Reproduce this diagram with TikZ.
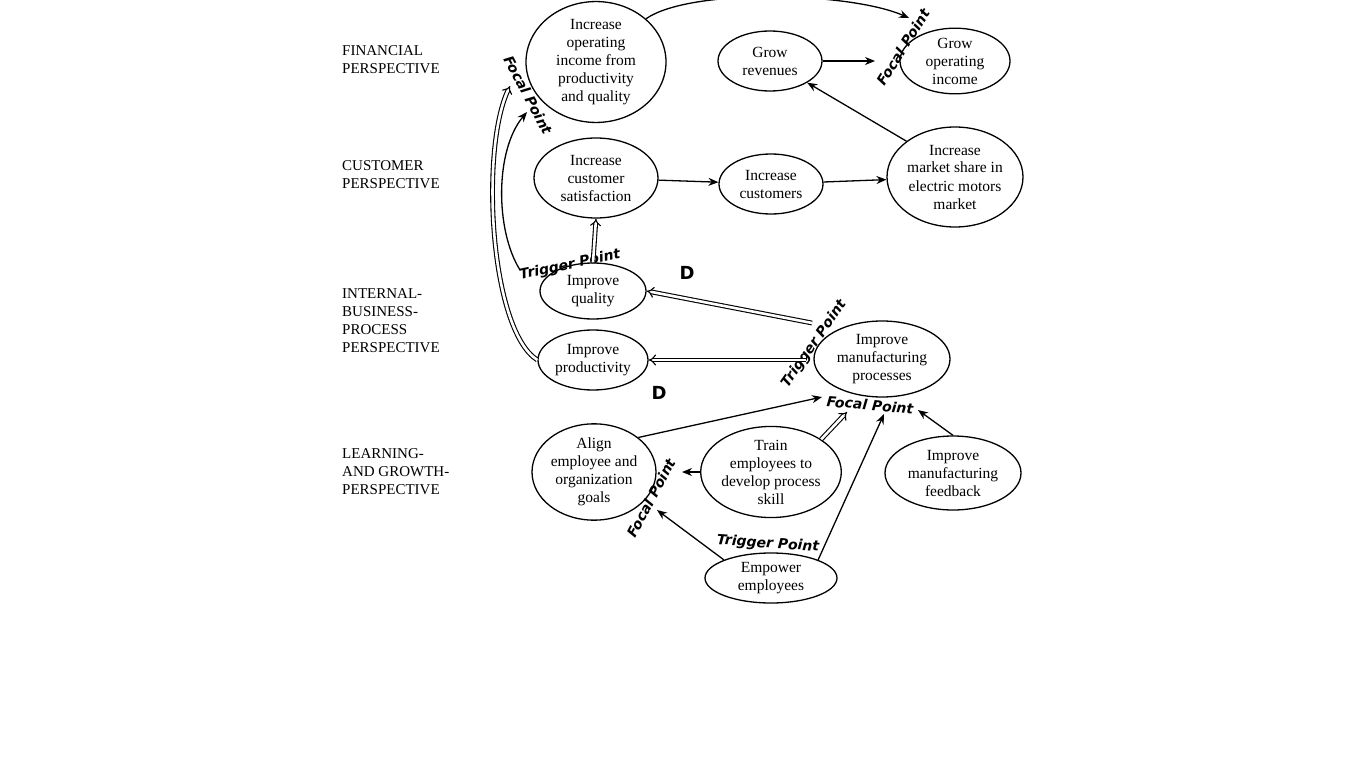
\documentclass[tikz,border=0pt]{standalone}
\usepackage{fontspec}
\setmainfont{Liberation Serif}
\newfontfamily\labfont{DejaVu Sans}
\usetikzlibrary{arrows.meta,shapes.geometric}
\begin{document}
\begin{tikzpicture}[x=1pt,y=-1pt,
 el/.style={ellipse,draw,line width=1.3pt,minimum width=#1,align=center,font=\fontsize{15.5}{18}\selectfont,inner sep=0pt},
 ar/.style={-{Stealth[length=10pt,width=8pt]},line width=1.3pt},
 dar/.style={-{Implies},double,double distance=2.6pt,line width=1.1pt},
 lab/.style={font=\labfont\bfseries\itshape\fontsize{14}{14}\selectfont,inner sep=0pt},
 per/.style={anchor=west,align=left,font=\fontsize{15}{18}\selectfont,inner sep=0pt},
 dl/.style={font=\labfont\bfseries\fontsize{18}{18}\selectfont,inner sep=0pt}]
\useasboundingbox (0,0) rectangle (1366,768);
\node[el,minimum width=140pt,minimum height=116pt] (iop) at (596,62) {Increase\\operating\\income from\\productivity\\and quality};
\node[el,minimum width=104pt,minimum height=60pt] (grev) at (770,61) {Grow\\revenues};
\node[el,minimum width=110pt,minimum height=64pt] (gop) at (955,61) {Grow\\operating\\income};
\node[el,minimum width=124pt,minimum height=80pt] (csat) at (596,178) {Increase\\customer\\satisfaction};
\node[el,minimum width=104pt,minimum height=60pt] (icust) at (771,184) {Increase\\customers};
\node[el,minimum width=136pt,minimum height=100pt] (mkt) at (955,177) {Increase\\market share in\\electric motors\\market};
\node[el,minimum width=106pt,minimum height=56pt] (qual) at (593,291) {Improve\\quality};
\node[el,minimum width=110pt,minimum height=60pt] (prod) at (593,360) {Improve\\productivity};
\node[el,minimum width=136pt,minimum height=76pt] (manuf) at (882,359) {Improve\\manufacturing\\processes};
\node[el,minimum width=124pt,minimum height=90pt] (align) at (594,472) {Align\\employee and\\organization\\goals};
\node[el,minimum width=132pt,minimum height=90pt] (train) at (771,472) {Train\\employees to\\develop process\\skill};
\node[el,minimum width=136pt,minimum height=74pt] (fb) at (953,473) {Improve\\manufacturing\\feedback};
\node[el,minimum width=132pt,minimum height=50pt] (emp) at (771,578) {Empower\\employees};

\node[per] (p1) at (342,60) {FINANCIAL\\PERSPECTIVE};
\node[per] (p2) at (342,175) {CUSTOMER\\PERSPECTIVE};
\node[per] (p3) at (342,321) {INTERNAL-\\BUSINESS-\\PROCESS\\PERSPECTIVE};
\node[per] (p4) at (342,472) {LEARNING-\\AND GROWTH-\\PERSPECTIVE};

\node[lab,rotate=-62] (f1) at (528,95) {Focal Point};
\node[lab,rotate=58] (f2) at (903,47) {Focal Point};
\node[lab,rotate=12] (t1) at (570,265) {Trigger Point};
\node[lab,rotate=55] (t2) at (814,344) {Trigger Point};
\node[lab,rotate=-5] (f3) at (870,405) {Focal Point};
\node[lab,rotate=62] (f4) at (651,498) {Focal Point};
\node[lab,rotate=-4] (t3) at (768,544) {Trigger Point};
\node[dl] (d1) at (687,273) {D};
\node[dl] (d2) at (659,393) {D};

\coordinate (a1) at (909,18);
\coordinate (a2) at (875,61);
\coordinate (a3) at (527,112);
\coordinate (a4) at (510,86);
\coordinate (a5) at (822,397);
\coordinate (a6) at (847,412);
\coordinate (a7) at (884,414);
\coordinate (a8) at (918,410);
\coordinate (a9) at (682,472);
\coordinate (a10) at (657,510);
\coordinate (s1) at (520,270);
\coordinate (s2) at (812,323);
\coordinate (s3) at (806,360);

\draw[ar] (iop.north east) .. controls (690,-12) and (850,-8) .. (a1);
\draw[ar] (grev) -- (a2);
\draw[ar] (mkt.north west) -- (grev.south east);
\draw[ar] (csat) -- (icust);
\draw[ar] (icust) -- (mkt);
\draw[dar] (qual.north) -- (csat.south);
\draw[ar] (s1) .. controls (495,230) and (495,150) .. (a3);
\draw[dar] (prod.west) .. controls (490,330) and (480,150) .. (a4);
\draw[dar] (s2) -- (qual.east);
\draw[dar] (s3) -- (prod.east);
\draw[ar] (align.north east) -- (a5);
\draw[dar] (train.north east) -- (a6);
\draw[ar] (emp.north east) -- (a7);
\draw[ar] (fb.north) -- (a8);
\draw[ar] (train.west) -- (a9);
\draw[ar] (emp.north west) -- (a10);
\end{tikzpicture}
\end{document}
